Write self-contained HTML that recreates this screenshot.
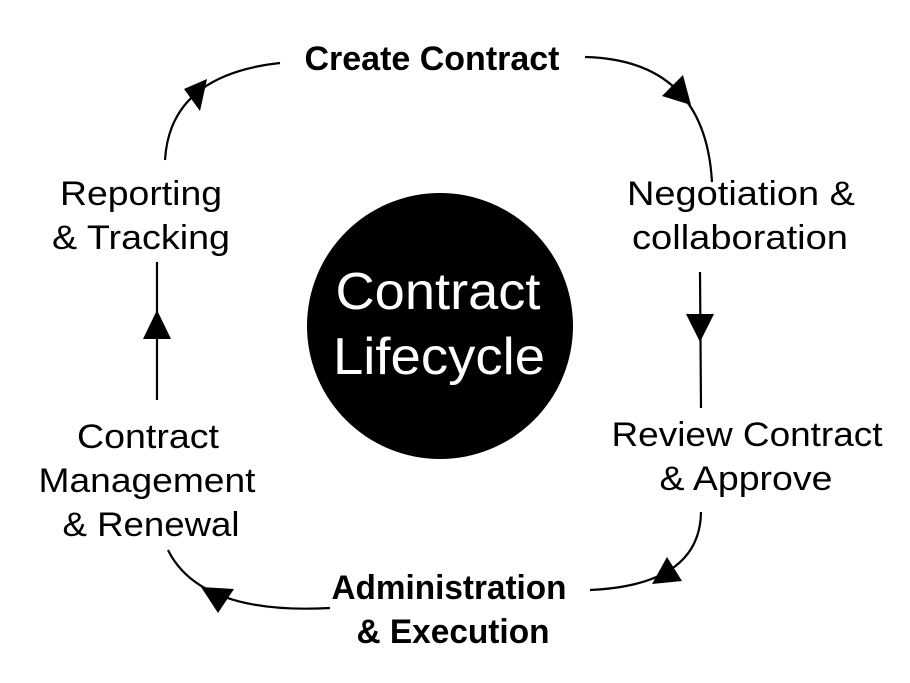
<!DOCTYPE html>
<html><head><style>
html,body{margin:0;padding:0;background:#fff;}
svg{display:block;}
text{font-family:"Liberation Sans",sans-serif;fill:#000;}
</style></head><body>
<svg width="910" height="683" viewBox="0 0 910 683">
<circle cx="440" cy="326" r="133" fill="#000"/>
<text x="438" y="309" font-size="52" text-anchor="middle" textLength="205" lengthAdjust="spacingAndGlyphs" style="fill:#fff">Contract</text>
<text x="439" y="374" font-size="52" text-anchor="middle" textLength="212" lengthAdjust="spacingAndGlyphs" style="fill:#fff">Lifecycle</text>

<g fill="none" stroke="#000" stroke-width="2.2">
<path d="M165 160 Q170 75 280 63"/>
<path d="M585 57 Q705 60 712 182"/>
<line x1="700" y1="272" x2="701" y2="408"/>
<path d="M701 512 Q700 585 590 590"/>
<path d="M330 608 Q200 615 168 550"/>
<line x1="157" y1="400" x2="157" y2="262"/>
</g>
<g fill="#000">
<polygon points="207,79 184,89 200,111"/>
<polygon points="691,105 662,96 683,75"/>
<polygon points="700,342 686,314 714,314"/>
<polygon points="667,557 652,584 682,581"/>
<polygon points="218,613 201,587 234,589"/>
<polygon points="157,310 143,339 171,339"/>
</g>

<g font-size="34" text-anchor="middle">
<text x="432" y="70" font-weight="bold" textLength="255" lengthAdjust="spacingAndGlyphs">Create Contract</text>
<text x="741" y="205" textLength="228" lengthAdjust="spacingAndGlyphs">Negotiation &amp;</text>
<text x="740" y="249" textLength="216" lengthAdjust="spacingAndGlyphs">collaboration</text>
<text x="747" y="446" textLength="271" lengthAdjust="spacingAndGlyphs">Review Contract</text>
<text x="746" y="490" textLength="173" lengthAdjust="spacingAndGlyphs">&amp; Approve</text>
<text x="449" y="599" font-weight="bold" textLength="235" lengthAdjust="spacingAndGlyphs">Administration</text>
<text x="453" y="643" font-weight="bold" textLength="193" lengthAdjust="spacingAndGlyphs">&amp; Execution</text>
<text x="148" y="448" textLength="142" lengthAdjust="spacingAndGlyphs">Contract</text>
<text x="147" y="492" textLength="217" lengthAdjust="spacingAndGlyphs">Management</text>
<text x="151" y="536" textLength="177" lengthAdjust="spacingAndGlyphs">&amp; Renewal</text>
<text x="141" y="205" textLength="162" lengthAdjust="spacingAndGlyphs">Reporting</text>
<text x="141" y="249" textLength="178" lengthAdjust="spacingAndGlyphs">&amp; Tracking</text>
</g>
</svg>
</body></html>
